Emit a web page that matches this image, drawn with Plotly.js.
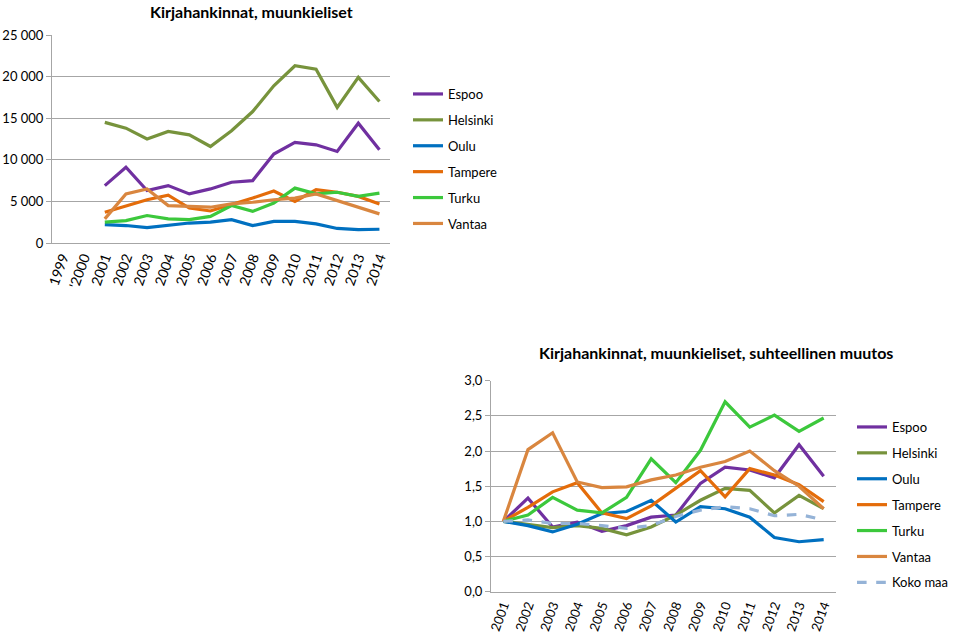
<!DOCTYPE html>
<html>
<head>
<meta charset="utf-8">
<script src="https://cdn.plot.ly/plotly-3.0.1.min.js"></script>
<style>html,body{margin:0;padding:0;background:#fff;}#chart{width:959px;height:633px;}</style>
</head>
<body>
<div id="chart"></div>
<script>
// ---- Data ----
const topCategories = ["1999", "'2000", "2001", "2002", "2003", "2004", "2005", "2006", "2007", "2008", "2009", "2010", "2011", "2012", "2013", "2014"];
const years = ["2001", "2002", "2003", "2004", "2005", "2006", "2007", "2008", "2009", "2010", "2011", "2012", "2013", "2014"];
const cities = ["Espoo", "Helsinki", "Oulu", "Tampere", "Turku", "Vantaa"];

// Absolute acquisitions (top chart)
const espooAbs    = [6900, 9100, 6300, 6900, 5900, 6500, 7300, 7500, 10700, 12100, 11800, 11000, 14400, 11200];
const helsinkiAbs = [14500, 13800, 12500, 13400, 13000, 11600, 13500, 15800, 18900, 21300, 20900, 16300, 19900, 17000];
const ouluAbs     = [2200, 2100, 1850, 2100, 2400, 2500, 2800, 2100, 2600, 2600, 2300, 1750, 1600, 1650];
const tampereAbs  = [3700, 4400, 5200, 5750, 4200, 3850, 4600, 5400, 6250, 5000, 6400, 6100, 5600, 4700];
const turkuAbs    = [2500, 2700, 3300, 2900, 2800, 3200, 4500, 3800, 4800, 6600, 5900, 6100, 5600, 6000];
const vantaaAbs   = [2900, 5900, 6500, 4500, 4400, 4300, 4700, 4900, 5200, 5400, 5900, 5100, 4300, 3500];

// Relative change (bottom chart)
const espooRel    = [1.00, 1.33, 0.92, 0.99, 0.86, 0.94, 1.06, 1.09, 1.54, 1.77, 1.73, 1.62, 2.09, 1.64];
const helsinkiRel = [1.00, 0.95, 0.91, 0.94, 0.90, 0.81, 0.92, 1.09, 1.30, 1.47, 1.44, 1.12, 1.37, 1.18];
const ouluRel     = [1.00, 0.94, 0.85, 0.96, 1.11, 1.14, 1.30, 0.99, 1.21, 1.18, 1.06, 0.77, 0.71, 0.74];
const tampereRel  = [1.00, 1.20, 1.42, 1.55, 1.12, 1.04, 1.22, 1.47, 1.72, 1.35, 1.75, 1.66, 1.52, 1.28];
const turkuRel    = [1.00, 1.09, 1.34, 1.16, 1.12, 1.34, 1.89, 1.55, 2.01, 2.70, 2.34, 2.51, 2.28, 2.47];
const vantaaRel   = [1.00, 2.02, 2.26, 1.56, 1.48, 1.49, 1.59, 1.66, 1.77, 1.85, 2.00, 1.72, 1.50, 1.18];
const kokoMaaRel  = [1.00, 1.02, 0.97, 0.97, 0.94, 0.90, 0.94, 1.07, 1.16, 1.21, 1.18, 1.08, 1.10, 1.02];

const topTitle = "Kirjahankinnat, muunkieliset";
const bottomTitle = "Kirjahankinnat, muunkieliset, suhteellinen muutos";
const kokoMaaName = "Koko maa";

// ---- Styles ----
const colors = ["#7030A0", "#77933C", "#0070C0", "#E46C0A", "#3CC83C", "#D9863F"];
const FONT = "Lato, 'Open Sans', sans-serif";
const GRID = "#A6A6A6";

const absSeries = [espooAbs, helsinkiAbs, ouluAbs, tampereAbs, turkuAbs, vantaaAbs];
const relSeries = [espooRel, helsinkiRel, ouluRel, tampereRel, turkuRel, vantaaRel];

const traces = [];
cities.forEach((c, i) => {
  traces.push({
    type: "scatter", mode: "lines", name: c, x: years, y: absSeries[i],
    xaxis: "x", yaxis: "y", legend: "legend", legendgroup: "a" + i,
    line: {color: colors[i], width: 3.2}
  });
});
cities.forEach((c, i) => {
  traces.push({
    type: "scatter", mode: "lines", name: c, x: years, y: relSeries[i],
    xaxis: "x2", yaxis: "y2", legend: "legend2", legendgroup: "b" + i,
    line: {color: colors[i], width: 3.2}
  });
});
traces.push({
  type: "scatter", mode: "lines", name: kokoMaaName, x: years, y: kokoMaaRel,
  xaxis: "x2", yaxis: "y2", legend: "legend2", legendgroup: "b6",
  line: {color: "#95B3D7", width: 3.2, dash: "dash"}
});

const W = 959, H = 633;
const layout = {
  width: W, height: H,
  margin: {l: 0, r: 0, t: 0, b: 0},
  paper_bgcolor: "#fff", plot_bgcolor: "#fff",
  separators: ", ",
  font: {family: FONT, size: 13, color: "#000"},
  showlegend: true,
  xaxis: {
    domain: [52 / W, 390 / W], anchor: "y",
    type: "category", categoryorder: "array", categoryarray: topCategories,
    range: [-0.5, topCategories.length - 0.5],
    showgrid: false, showline: true, linecolor: GRID, linewidth: 1,
    ticks: "", tickangle: -70, tickfont: {family: FONT, size: 14},
    fixedrange: true
  },
  yaxis: {
    domain: [1 - 243 / H, 1 - 35 / H], anchor: "x",
    range: [0, 25000], dtick: 5000, tick0: 0,
    separatethousands: true, tickformat: ",d",
    showgrid: true, gridcolor: GRID, gridwidth: 1,
    showline: true, linecolor: GRID, linewidth: 1,
    ticks: "outside", ticklen: 5, tickcolor: GRID,
    tickfont: {family: FONT, size: 13}, zeroline: false
  },
  xaxis2: {
    domain: [491 / W, 836 / W], anchor: "y2",
    type: "category", categoryorder: "array", categoryarray: years,
    range: [-0.5, years.length - 0.5],
    showgrid: false, showline: true, linecolor: GRID, linewidth: 1,
    ticks: "", tickangle: -70, tickfont: {family: FONT, size: 13}
  },
  yaxis2: {
    domain: [1 - 591.7 / H, 1 - 380.7 / H], anchor: "x2",
    range: [0, 3.0], dtick: 0.5, tick0: 0, tickformat: ".1f",
    showgrid: true, gridcolor: GRID, gridwidth: 1,
    showline: true, linecolor: GRID, linewidth: 1,
    ticks: "outside", ticklen: 5, tickcolor: GRID,
    tickfont: {family: FONT, size: 13}, zeroline: false
  },
  legend: {
    x: 408 / W, y: 1 - 79 / H, xanchor: "left", yanchor: "top",
    font: {family: FONT, size: 13}, tracegroupgap: 6,
    bgcolor: "rgba(0,0,0,0)", itemwidth: 30
  },
  legend2: {
    x: 852 / W, y: 1 - 412 / H, xanchor: "left", yanchor: "top",
    font: {family: FONT, size: 13}, tracegroupgap: 6,
    bgcolor: "rgba(0,0,0,0)", itemwidth: 30
  },
  annotations: [
    {text: "<b>" + topTitle + "</b>", xref: "paper", yref: "paper",
     x: 251 / W, y: 1, xanchor: "center", yanchor: "top",
     showarrow: false, font: {family: FONT, size: 16}},
    {text: "<b>" + bottomTitle + "</b>", xref: "paper", yref: "paper",
     x: 716 / W, y: 1 - 353 / H, xanchor: "center", yanchor: "middle",
     showarrow: false, font: {family: FONT, size: 16}}
  ]
};

Plotly.newPlot("chart", traces, layout, {displayModeBar: false, staticPlot: true});
</script>
</body>
</html>
